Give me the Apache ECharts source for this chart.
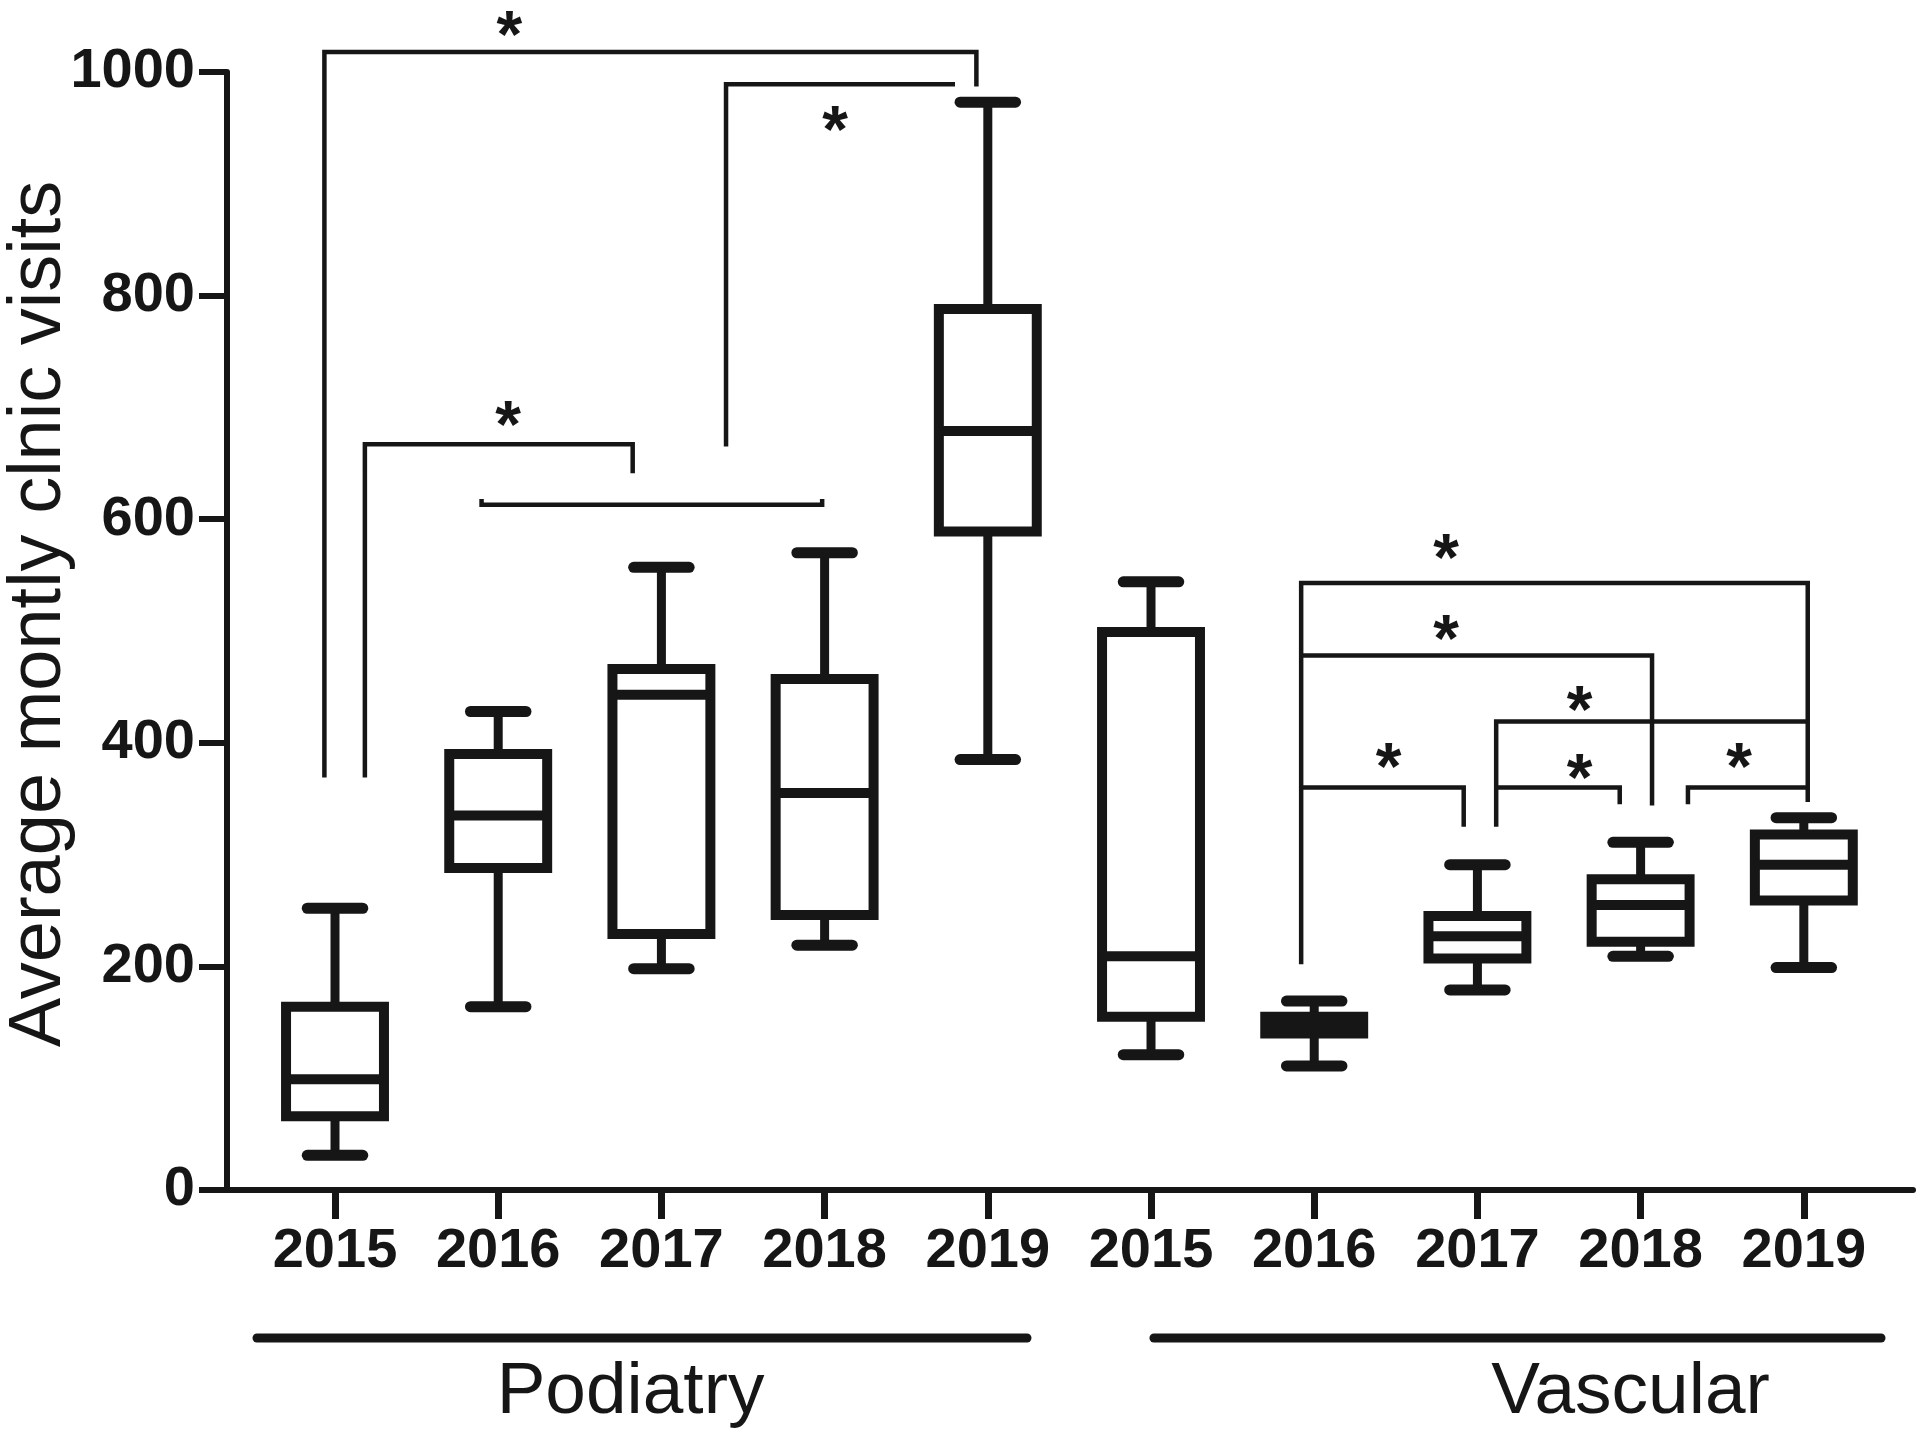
<!DOCTYPE html>
<html><head><meta charset="utf-8">
<script src="https://cdn.jsdelivr.net/npm/echarts@6/dist/echarts.min.js"></script>
<style>html,body{margin:0;padding:0;background:#fff}#chart{width:1920px;height:1441px}</style>
</head><body><div id="chart"></div>
<script>
// ---- data ----
const categories = ['2015','2016','2017','2018','2019','2015','2016','2017','2018','2019'];
const groups = ['Podiatry', 'Vascular'];
const whiskerLow  = [31, 164, 198, 219, 385, 121, 111, 179, 209, 199];
const q1          = [66, 288, 229, 246, 589, 155, 140, 207, 222, 259];
const median      = [99, 335, 443, 355, 679, 209, 148, 227, 255, 291];
const q3          = [164, 390, 466, 457, 788, 499, 155, 245, 278, 318];
const whiskerHigh = [252, 428, 557, 570, 973, 544, 169, 291, 311, 333];
const yTicks = [0, 200, 400, 600, 800, 1000];

// significance brackets: [xStart, xEnd, yLevel, yLeftEnd, yRightEnd] (x in category index units)
const brackets = [
  [-0.065, 3.930, 1018, 369, 987],
  [2.396, 3.799, 989, 665, null],
  [0.183, 1.824, 667, 369, 641],
  [0.898, 2.985, 613, 618, 618],
  [5.920, 9.024, 543, 202, 347],
  [5.920, 8.070, 478, null, 344],
  [7.115, 9.024, 419, 325, null],
  [5.920, 6.916, 360, null, 325],
  [7.115, 7.872, 360, null, 345],
  [8.290, 9.024, 360, 345, null]
];
// asterisk positions [x, y]
const stars = [
  [1.068, 1043], [3.064, 958], [1.061, 694],
  [6.808, 575], [6.808, 502], [7.626, 439],
  [6.456, 388], [7.626, 378], [8.604, 388]
];
// group underline spans and label centres (x in category index units)
const groupSpan = [[-0.478, 4.240], [5.018, 9.473]];
const groupLabelX = [1.811, 7.938];

// ---- chart ----
const INK = '#161616';
const FONT = '"Liberation Sans", Arial, Helvetica, sans-serif';
const chart = echarts.init(document.getElementById('chart'), null, {renderer: 'canvas'});
const idx = categories.map((_, i) => i);

const boxData = idx.map(i => [i, whiskerLow[i], q1[i], median[i], q3[i], whiskerHigh[i]]);

function renderBox(params, api) {
  const i = api.value(0);
  const bw = api.size([1, 0])[0];
  const half = bw * 0.30, capHalf = bw * 0.17;
  const pLow = api.coord([i, api.value(1)]);
  const pQ1 = api.coord([i, api.value(2)]);
  const pMed = api.coord([i, api.value(3)]);
  const pQ3 = api.coord([i, api.value(4)]);
  const pHigh = api.coord([i, api.value(5)]);
  const x = pLow[0];
  const lw = 10;
  const st = {stroke: INK, lineWidth: lw, fill: null};
  return {
    type: 'group',
    children: [
      {type: 'line', shape: {x1: x, y1: pHigh[1], x2: x, y2: pQ3[1]}, style: {stroke: INK, lineWidth: 9}},
      {type: 'line', shape: {x1: x, y1: pQ1[1], x2: x, y2: pLow[1]}, style: {stroke: INK, lineWidth: 9}},
      {type: 'line', shape: {x1: x - capHalf, y1: pHigh[1], x2: x + capHalf, y2: pHigh[1]}, style: {stroke: INK, lineWidth: 11, lineCap: 'round'}},
      {type: 'line', shape: {x1: x - capHalf, y1: pLow[1], x2: x + capHalf, y2: pLow[1]}, style: {stroke: INK, lineWidth: 11, lineCap: 'round'}},
      {type: 'rect', shape: {x: x - half, y: pQ3[1], width: 2 * half, height: pQ1[1] - pQ3[1]}, style: {stroke: INK, lineWidth: lw, fill: '#fff', lineJoin: 'miter'}},
      {type: 'line', shape: {x1: x - half, y1: pMed[1], x2: x + half, y2: pMed[1]}, style: st}
    ]
  };
}

function renderBracket(params, api) {
  const b = brackets[params.dataIndex];
  const pts = [];
  if (b[3] != null) pts.push(api.coord([b[0], b[3]]));
  pts.push(api.coord([b[0], b[2]]));
  pts.push(api.coord([b[1], b[2]]));
  if (b[4] != null) pts.push(api.coord([b[1], b[4]]));
  return {type: 'polyline', shape: {points: pts}, style: {stroke: INK, lineWidth: 4.5, fill: null, lineJoin: 'miter'}};
}

const STAR_SIZE = 66;
function renderStar(params, api) {
  const p = api.coord([api.value(0), api.value(1)]);
  return {type: 'text', x: p[0], y: p[1] + STAR_SIZE * 0.22,
    style: {text: '*', font: 'bold ' + STAR_SIZE + 'px ' + FONT, fill: INK, align: 'center', verticalAlign: 'middle'}};
}

function renderGroup(params, api) {
  const g = params.dataIndex;
  const base = api.coord([0, 0])[1];
  const a = api.coord([groupSpan[g][0], 0]);
  const b = api.coord([groupSpan[g][1], 0]);
  const c = api.coord([groupLabelX[g], 0]);
  return {type: 'group', children: [
    {type: 'line', shape: {x1: a[0], y1: base + 148, x2: b[0], y2: base + 148}, style: {stroke: INK, lineWidth: 9, lineCap: 'round'}},
    {type: 'text', x: c[0], y: base + 203, style: {text: groups[g], font: '73px ' + FONT, fill: INK, align: 'center', verticalAlign: 'middle'}}
  ]};
}

const option = {
  backgroundColor: '#fff',
  animation: false,
  grid: {left: 227, right: 7, top: 72, bottom: 251, containLabel: false, outerBoundsMode: 'none'},
  xAxis: {
    type: 'value', min: -0.6618, max: 9.669,
    splitLine: {show: false},
    axisLine: {show: true, onZero: false, lineStyle: {color: INK, width: 6}},
    axisTick: {show: true, customValues: idx, length: 29, lineStyle: {color: INK, width: 7}},
    axisLabel: {show: true, customValues: idx, margin: 34, formatter: v => categories[Math.round(v)],
      fontSize: 56, fontWeight: 'bold', fontFamily: FONT, color: INK}
  },
  yAxis: {
    type: 'value', min: 0, max: 1000, interval: 200,
    splitLine: {show: false},
    axisLine: {show: true, onZero: false, lineStyle: {color: INK, width: 6}},
    axisTick: {show: true, length: 28, lineStyle: {color: INK, width: 6}},
    axisLabel: {margin: 32, fontSize: 56, fontWeight: 'bold', fontFamily: FONT, color: INK,
      formatter: v => (yTicks.indexOf(v) >= 0 ? String(v) : '')}
  },
  graphic: [{
    type: 'text', x: 40, y: 614, rotation: Math.PI / 2,
    style: {text: 'Average montly clnic visits', font: '74px ' + FONT, fill: INK, align: 'center', verticalAlign: 'middle'}
  }],
  series: [
    {type: 'custom', name: 'brackets', clip: false, data: brackets.map((b, i) => [b[0], b[2]]), renderItem: renderBracket, silent: true},
    {type: 'custom', name: 'boxes', clip: false, data: boxData, renderItem: renderBox, encode: {x: 0, y: [1, 2, 3, 4, 5]}},
    {type: 'custom', name: 'stars', clip: false, data: stars, renderItem: renderStar, silent: true},
    {type: 'custom', name: 'groups', clip: false, data: groups.map((g, i) => [groupLabelX[i], 0]), renderItem: renderGroup, silent: true}
  ]
};
chart.setOption(option);
</script>
</body></html>
